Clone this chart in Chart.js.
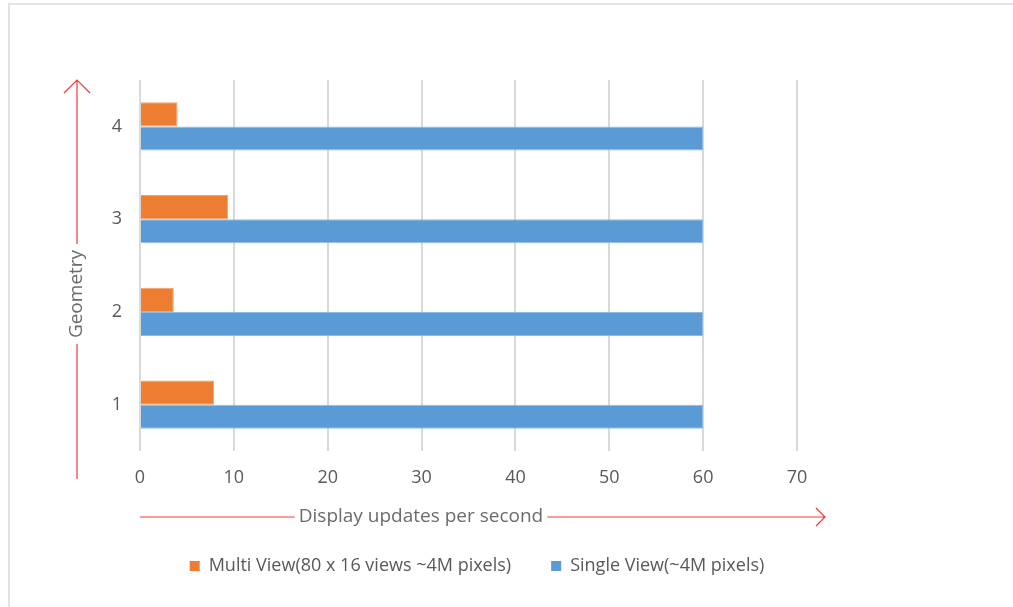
<!DOCTYPE html>
<html>
<head>
<meta charset="utf-8">
<script src="https://cdn.jsdelivr.net/npm/chart.js@4"></script>
<style>
  html, body { margin: 0; padding: 0; background: #fff; overflow: hidden; }
  #frame { position: absolute; left: 8px; top: 3px; width: 1100px; height: 700px; border: 2px solid #e3e3e3; }
  #wrap { position: absolute; left: 0; top: 0; width: 1013px; height: 607px; }
</style>
</head>
<body>
<div id="frame"></div>
<div id="wrap"><canvas id="chart"></canvas></div>
<script>
const categories = ['4', '3', '2', '1'];
const multiView = [4.0, 9.4, 3.6, 7.9];
const singleView = [60, 60, 60, 60];
const xTicks = [0, 10, 20, 30, 40, 50, 60, 70];

const textColor = '#595959';
const arrowColor = '#f23a3a';

// red arrows with the axis titles sitting in a gap of the line
const arrowAxes = {
    id: 'arrowAxes',
    afterLayout(chart) {
        // legend sits a bit right of the page centre in the original
        const lg = chart.legend;
        const dx = 31, dy = 0;
        lg.left += dx; lg.right += dx;
        lg.top += dy; lg.bottom += dy;
    },
    afterDraw(chart) {
        const { ctx, chartArea } = chart;
        ctx.save();
        ctx.strokeStyle = arrowColor;
        ctx.lineWidth = 1.2;
        ctx.font = '19px "Open Sans"';
        ctx.fillStyle = '#6b6b6b';

        // vertical: Geometry
        const vx = chartArea.left - 63;
        const vTop = chartArea.top;
        const vBottom = chartArea.bottom + 28;
        const vMid = 294;
        const vTitle = 'Geometry';
        const vHalf = ctx.measureText(vTitle).width / 2 + 6;
        ctx.beginPath();
        ctx.moveTo(vx, vBottom);
        ctx.lineTo(vx, vMid + vHalf);
        ctx.moveTo(vx, vMid - vHalf);
        ctx.lineTo(vx, vTop);
        ctx.moveTo(vx - 13, vTop + 13);
        ctx.lineTo(vx, vTop);
        ctx.lineTo(vx + 13, vTop + 13);
        ctx.stroke();
        ctx.save();
        ctx.translate(vx, vMid);
        ctx.rotate(-Math.PI / 2);
        ctx.textAlign = 'center';
        ctx.textBaseline = 'middle';
        ctx.fillText(vTitle, 0, 0);
        ctx.restore();

        // horizontal: Display updates per second
        const hy = chartArea.bottom + 66;
        const hLeft = chartArea.left;
        const hRight = chartArea.right + 28;
        const hMid = 421;
        const hTitle = 'Display updates per second';
        const hHalf = ctx.measureText(hTitle).width / 2 + 4;
        ctx.beginPath();
        ctx.moveTo(hLeft, hy);
        ctx.lineTo(hMid - hHalf, hy);
        ctx.moveTo(hMid + hHalf, hy);
        ctx.lineTo(hRight, hy);
        ctx.moveTo(hRight - 9, hy - 9);
        ctx.lineTo(hRight, hy);
        ctx.lineTo(hRight - 9, hy + 9);
        ctx.stroke();
        ctx.textAlign = 'center';
        ctx.textBaseline = 'middle';
        ctx.fillText(hTitle, hMid, hy);
        ctx.restore();
    }
};

new Chart(document.getElementById('chart'), {
    type: 'bar',
    data: {
        labels: categories,
        datasets: [
            {
                label: 'Multi View(80 x 16 views ~4M pixels)',
                data: multiView,
                backgroundColor: '#ed7d31',
                borderColor: '#f3a06a',
                borderWidth: 1
            },
            {
                label: 'Single View(~4M pixels)',
                data: singleView,
                backgroundColor: '#5b9bd5',
                borderColor: '#8dbbe6',
                borderWidth: 1
            }
        ]
    },
    options: {
        indexAxis: 'y',
        responsive: true,
        maintainAspectRatio: false,
        animation: false,
        layout: {
            padding: { left: 95, right: 216, top: 80, bottom: 22 }
        },
        datasets: {
            bar: { barPercentage: 1, categoryPercentage: 0.52 }
        },
        scales: {
            x: {
                min: 0,
                max: 70,
                afterBuildTicks(axis) {
                    axis.ticks = xTicks.map(v => ({ value: v }));
                },
                afterFit(axis) {
                    axis.height = 66;
                },
                grid: { color: '#d9d9d9', lineWidth: 2, drawTicks: false },
                border: { display: false },
                ticks: { color: textColor, padding: 16, font: { family: 'Open Sans', size: 18 } }
            },
            y: {
                afterFit(axis) {
                    axis.width = 45;
                },
                grid: { display: false, drawTicks: false },
                border: { display: false },
                ticks: { color: textColor, padding: 18, font: { family: 'Open Sans', size: 18 } }
            }
        },
        plugins: {
            legend: {
                position: 'bottom',
                labels: {
                    color: textColor,
                    boxWidth: 10,
                    boxHeight: 10,
                    padding: 40,
                    font: { family: 'Open Sans', size: 18 },
                    generateLabels(chart) {
                        return chart.data.datasets.map((ds, i) => ({
                            text: ds.label,
                            fillStyle: ds.backgroundColor,
                            strokeStyle: ds.backgroundColor,
                            lineWidth: 0,
                            fontColor: textColor,
                            datasetIndex: i
                        }));
                    }
                }
            },
            tooltip: { enabled: false }
        }
    },
    plugins: [arrowAxes]
});
</script>
</body>
</html>
